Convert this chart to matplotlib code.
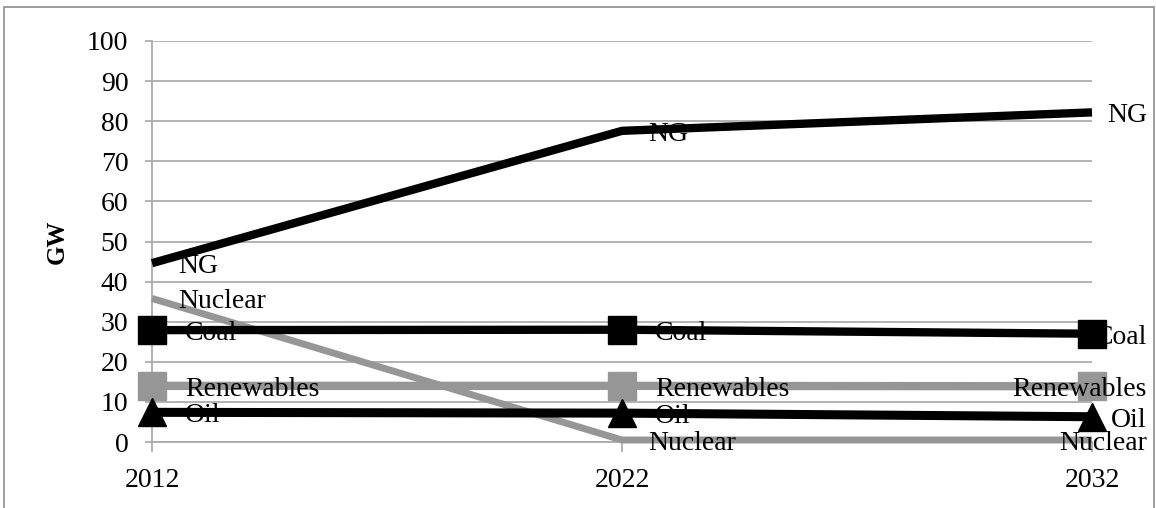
import matplotlib.pyplot as plt
from matplotlib.patches import Rectangle

# Kapazitaet je Energietraeger (GW)
years = [2012, 2022, 2032]
ng = [44.6, 77.6, 82.2]
nuclear = [35.8, 0.5, 0.5]
coal = [27.9, 28.0, 27.0]
renewables = [14.0, 14.0, 13.9]
oil = [7.4, 7.2, 6.3]
yticks = list(range(0, 101, 10))

plt.rcParams['font.family'] = ['Liberation Serif', 'DejaVu Serif']

black = '#000000'
grey = '#969696'
grid = '#a6a6a6'

fig = plt.figure(figsize=(11.56, 5.08), dpi=100)
ax = fig.add_axes([152 / 1156, 1 - 442 / 508, 940 / 1156, 401 / 508])

# Rahmen um das Diagramm (unten offen)
fig.patches.append(Rectangle((4 / 1156, -0.02), 1150 / 1156, 1 - 7 / 508 + 0.02,
                             transform=fig.transFigure, fill=False,
                             edgecolor='#8c8c8c', linewidth=1.2))

ax.plot(years, ng, color=black, lw=6, solid_capstyle='butt', zorder=3, clip_on=False)
ax.plot(years, nuclear, color=grey, lw=5, solid_capstyle='butt', zorder=3, clip_on=False)
ax.plot(years, coal, color=black, lw=6, marker='s', ms=20.5, solid_capstyle='butt',
        zorder=4, clip_on=False)
ax.plot(years, renewables, color=grey, lw=6, marker='s', ms=20.5, solid_capstyle='butt',
        zorder=4, clip_on=False)
ax.plot(years, oil, color=black, lw=6.5, marker='^', ms=20.5, solid_capstyle='butt',
        zorder=4, clip_on=False)

# Datenbeschriftungen: rechts neben dem Punkt, am letzten Punkt rechtsbuendig
# (Abstand in Pixeln, mit Marker etwas weiter)
series = [('NG', ng, 26), ('Nuclear', nuclear, 26), ('Coal', coal, 33),
          ('Renewables', renewables, 33), ('Oil', oil, 33)]
for name, vals, dx in series:
    for i, (x, v) in enumerate(zip(years, vals)):
        if i == len(years) - 1:
            ax.annotate(name, (x, v), xytext=(55 * 0.72, -2.5), textcoords='offset points',
                        ha='right', va='center', fontsize=20, zorder=5,
                        annotation_clip=False)
        else:
            ax.annotate(name, (x, v), xytext=(dx * 0.72, -2.5), textcoords='offset points',
                        ha='left', va='center', fontsize=20, zorder=5,
                        annotation_clip=False)

ax.set_xlim(2012, 2032)
ax.set_ylim(0, 100)
ax.set_yticks(yticks)
ax.set_xticks(years)
ax.set_xticklabels([str(y) for y in years])
ax.grid(axis='y', color=grid, lw=1.2)
ax.set_axisbelow(True)
for s in ['top', 'right']:
    ax.spines[s].set_visible(False)
for s in ['left', 'bottom']:
    ax.spines[s].set_color(grid)
    ax.spines[s].set_linewidth(1.2)
ax.tick_params(axis='y', length=5, color=grid, width=1.2, pad=12, labelsize=20)
ax.tick_params(axis='x', length=7, color=grid, width=1.2, pad=12, labelsize=20)
ax.set_ylabel('GW', fontsize=18, fontweight='bold', labelpad=13)

fig.savefig('out.png', dpi=100)
